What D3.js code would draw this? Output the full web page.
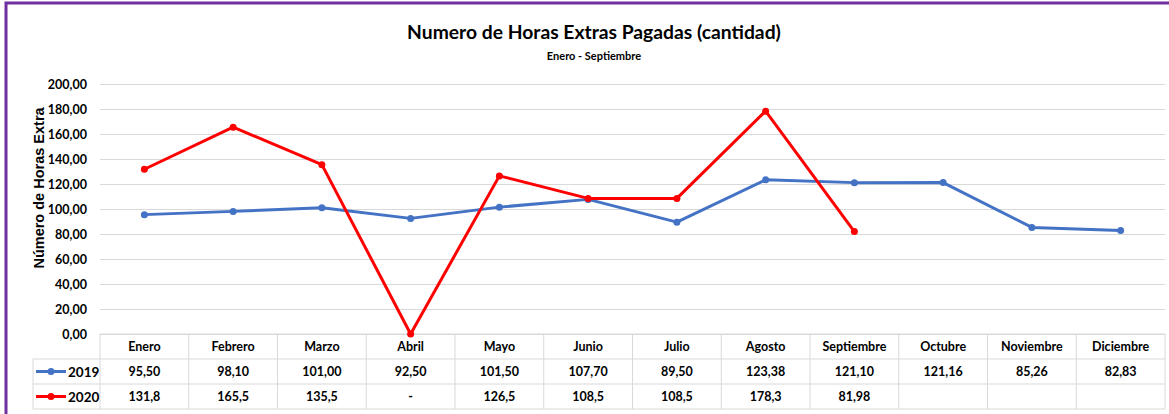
<!DOCTYPE html>
<html>
<head>
<meta charset="utf-8">
<script src="https://cdn.jsdelivr.net/npm/d3@7"></script>
<style>
  html, body { margin: 0; padding: 0; background: #fff; }
  svg { display: block; }
</style>
</head>
<body>
<div id="chart"></div>
<script>
const months = ['Enero', 'Febrero', 'Marzo', 'Abril', 'Mayo', 'Junio', 'Julio',
  'Agosto', 'Septiembre', 'Octubre', 'Noviembre', 'Diciembre'];
const values2019 = [95.50, 98.10, 101.00, 92.50, 101.50, 107.70, 89.50, 123.38, 121.10, 121.16, 85.26, 82.83];
const labels2019 = ['95,50', '98,10', '101,00', '92,50', '101,50', '107,70', '89,50', '123,38', '121,10', '121,16', '85,26', '82,83'];
const values2020 = [131.8, 165.5, 135.5, 0, 126.5, 108.5, 108.5, 178.3, 81.98];
const labels2020 = ['131,8', '165,5', '135,5', '-', '126,5', '108,5', '108,5', '178,3', '81,98'];
const yTicks = [0, 20, 40, 60, 80, 100, 120, 140, 160, 180, 200];

const WIDTH = 1169;
const HEIGHT = 414;
const FONT = 'Lato, "Open Sans", sans-serif';
const GRID = '#d9d9d9';

const series = [
  {name: '2019', colour: '#4472C4', values: values2019, labels: labels2019},
  {name: '2020', colour: '#FF0000', values: values2020, labels: labels2020},
];

const svg = d3.select('#chart').append('svg')
  .attr('width', WIDTH)
  .attr('height', HEIGHT);

// Frame
svg.append('rect')
  .attr('x', 6).attr('y', 3)
  .attr('width', WIDTH + 10).attr('height', HEIGHT + 10)
  .attr('fill', 'none')
  .attr('stroke', '#7030A0')
  .attr('stroke-width', 3);

const plot = {left: 100, right: 1165, top: 84, bottom: 334};

const x = d3.scaleBand()
  .domain(months)
  .range([plot.left, plot.right]);

const y = d3.scaleLinear()
  .domain([0, 200])
  .range([plot.bottom, plot.top]);

// Titles
svg.append('text')
  .attr('x', 594).attr('y', 39)
  .attr('text-anchor', 'middle')
  .attr('font-family', FONT)
  .attr('font-weight', 'bold')
  .attr('font-size', 19.3)
  .text('Numero de Horas Extras Pagadas (cantidad)');

svg.append('text')
  .attr('x', 594).attr('y', 60)
  .attr('text-anchor', 'middle')
  .attr('font-family', FONT)
  .attr('font-weight', 'bold')
  .attr('font-size', 11)
  .text('Enero - Septiembre');

// Y axis
const yAxis = svg.append('g')
  .attr('transform', `translate(${plot.left}, 0)`)
  .call(d3.axisLeft(y)
    .tickValues(yTicks)
    .tickSize(-(plot.right - plot.left))
    .tickPadding(13)
    .tickFormat(d => d3.format('.2f')(d).replace('.', ',')));

yAxis.select('.domain').remove();
yAxis.selectAll('.tick line')
  .attr('stroke', GRID)
  .attr('stroke-width', 1);
yAxis.selectAll('.tick text')
  .attr('font-family', FONT)
  .attr('font-weight', 'bold')
  .attr('font-size', 12.5)
  .attr('fill', '#000');

svg.append('text')
  .attr('transform', `translate(44, 188) rotate(-90)`)
  .attr('text-anchor', 'middle')
  .attr('font-family', '"Liberation Sans", Arial, sans-serif')
  .attr('font-weight', 'bold')
  .attr('font-size', 14.5)
  .text('Número de Horas Extra');

// Data table
const rowH = 25;
const tableTop = plot.bottom;
const legendLeft = 33;
const table = svg.append('g');

table.append('line')
  .attr('x1', plot.left).attr('x2', plot.right)
  .attr('y1', tableTop).attr('y2', tableTop)
  .attr('stroke', GRID);

[1, 2, 3].forEach(i => {
  table.append('line')
    .attr('x1', legendLeft).attr('x2', plot.right)
    .attr('y1', tableTop + i * rowH).attr('y2', tableTop + i * rowH)
    .attr('stroke', GRID);
});

table.append('line')
  .attr('x1', legendLeft).attr('x2', legendLeft)
  .attr('y1', tableTop + rowH).attr('y2', tableTop + 3 * rowH)
  .attr('stroke', GRID);

table.selectAll('.col-line')
  .data([...months.map(m => x(m)), plot.right])
  .enter().append('line')
  .attr('class', 'col-line')
  .attr('x1', d => d).attr('x2', d => d)
  .attr('y1', tableTop).attr('y2', tableTop + 3 * rowH)
  .attr('stroke', GRID);

table.selectAll('.month')
  .data(months)
  .enter().append('text')
  .attr('class', 'month')
  .attr('x', d => x(d) + x.bandwidth() / 2)
  .attr('y', tableTop + rowH / 2 + 4.5)
  .attr('text-anchor', 'middle')
  .attr('font-family', FONT)
  .attr('font-weight', 'bold')
  .attr('font-size', 12.5)
  .text(d => d);

series.forEach((s, i) => {
  const rowY = tableTop + (i + 1) * rowH;
  const midY = rowY + rowH / 2;

  table.append('line')
    .attr('x1', 36).attr('x2', 66)
    .attr('y1', midY).attr('y2', midY)
    .attr('stroke', s.colour)
    .attr('stroke-width', 3);
  table.append('circle')
    .attr('cx', 51).attr('cy', midY).attr('r', 3.5)
    .attr('fill', s.colour);
  table.append('text')
    .attr('x', 68).attr('y', midY + 5)
    .attr('font-family', FONT)
    .attr('font-weight', 'bold')
    .attr('font-size', 13.5)
    .text(s.name);

  table.selectAll(`.val${s.name}`)
    .data(s.labels)
    .enter().append('text')
    .attr('x', (d, j) => x(months[j]) + x.bandwidth() / 2)
    .attr('y', midY + 4.5)
    .attr('text-anchor', 'middle')
    .attr('font-family', FONT)
    .attr('font-weight', 'bold')
    .attr('font-size', 12.5)
    .text(d => d);
});

// Lines
const line = d3.line()
  .x((d, j) => x(months[j]) + x.bandwidth() / 2)
  .y(d => y(d));

series.forEach(s => {
  svg.append('path')
    .datum(s.values)
    .attr('fill', 'none')
    .attr('stroke', s.colour)
    .attr('stroke-width', 3)
    .attr('stroke-linejoin', 'round')
    .attr('stroke-linecap', 'round')
    .attr('d', line);

  svg.selectAll(`.dot${s.name}`)
    .data(s.values)
    .enter().append('circle')
    .attr('cx', (d, j) => x(months[j]) + x.bandwidth() / 2)
    .attr('cy', d => y(d))
    .attr('r', 3.5)
    .attr('fill', s.colour);
});
</script>
</body>
</html>
